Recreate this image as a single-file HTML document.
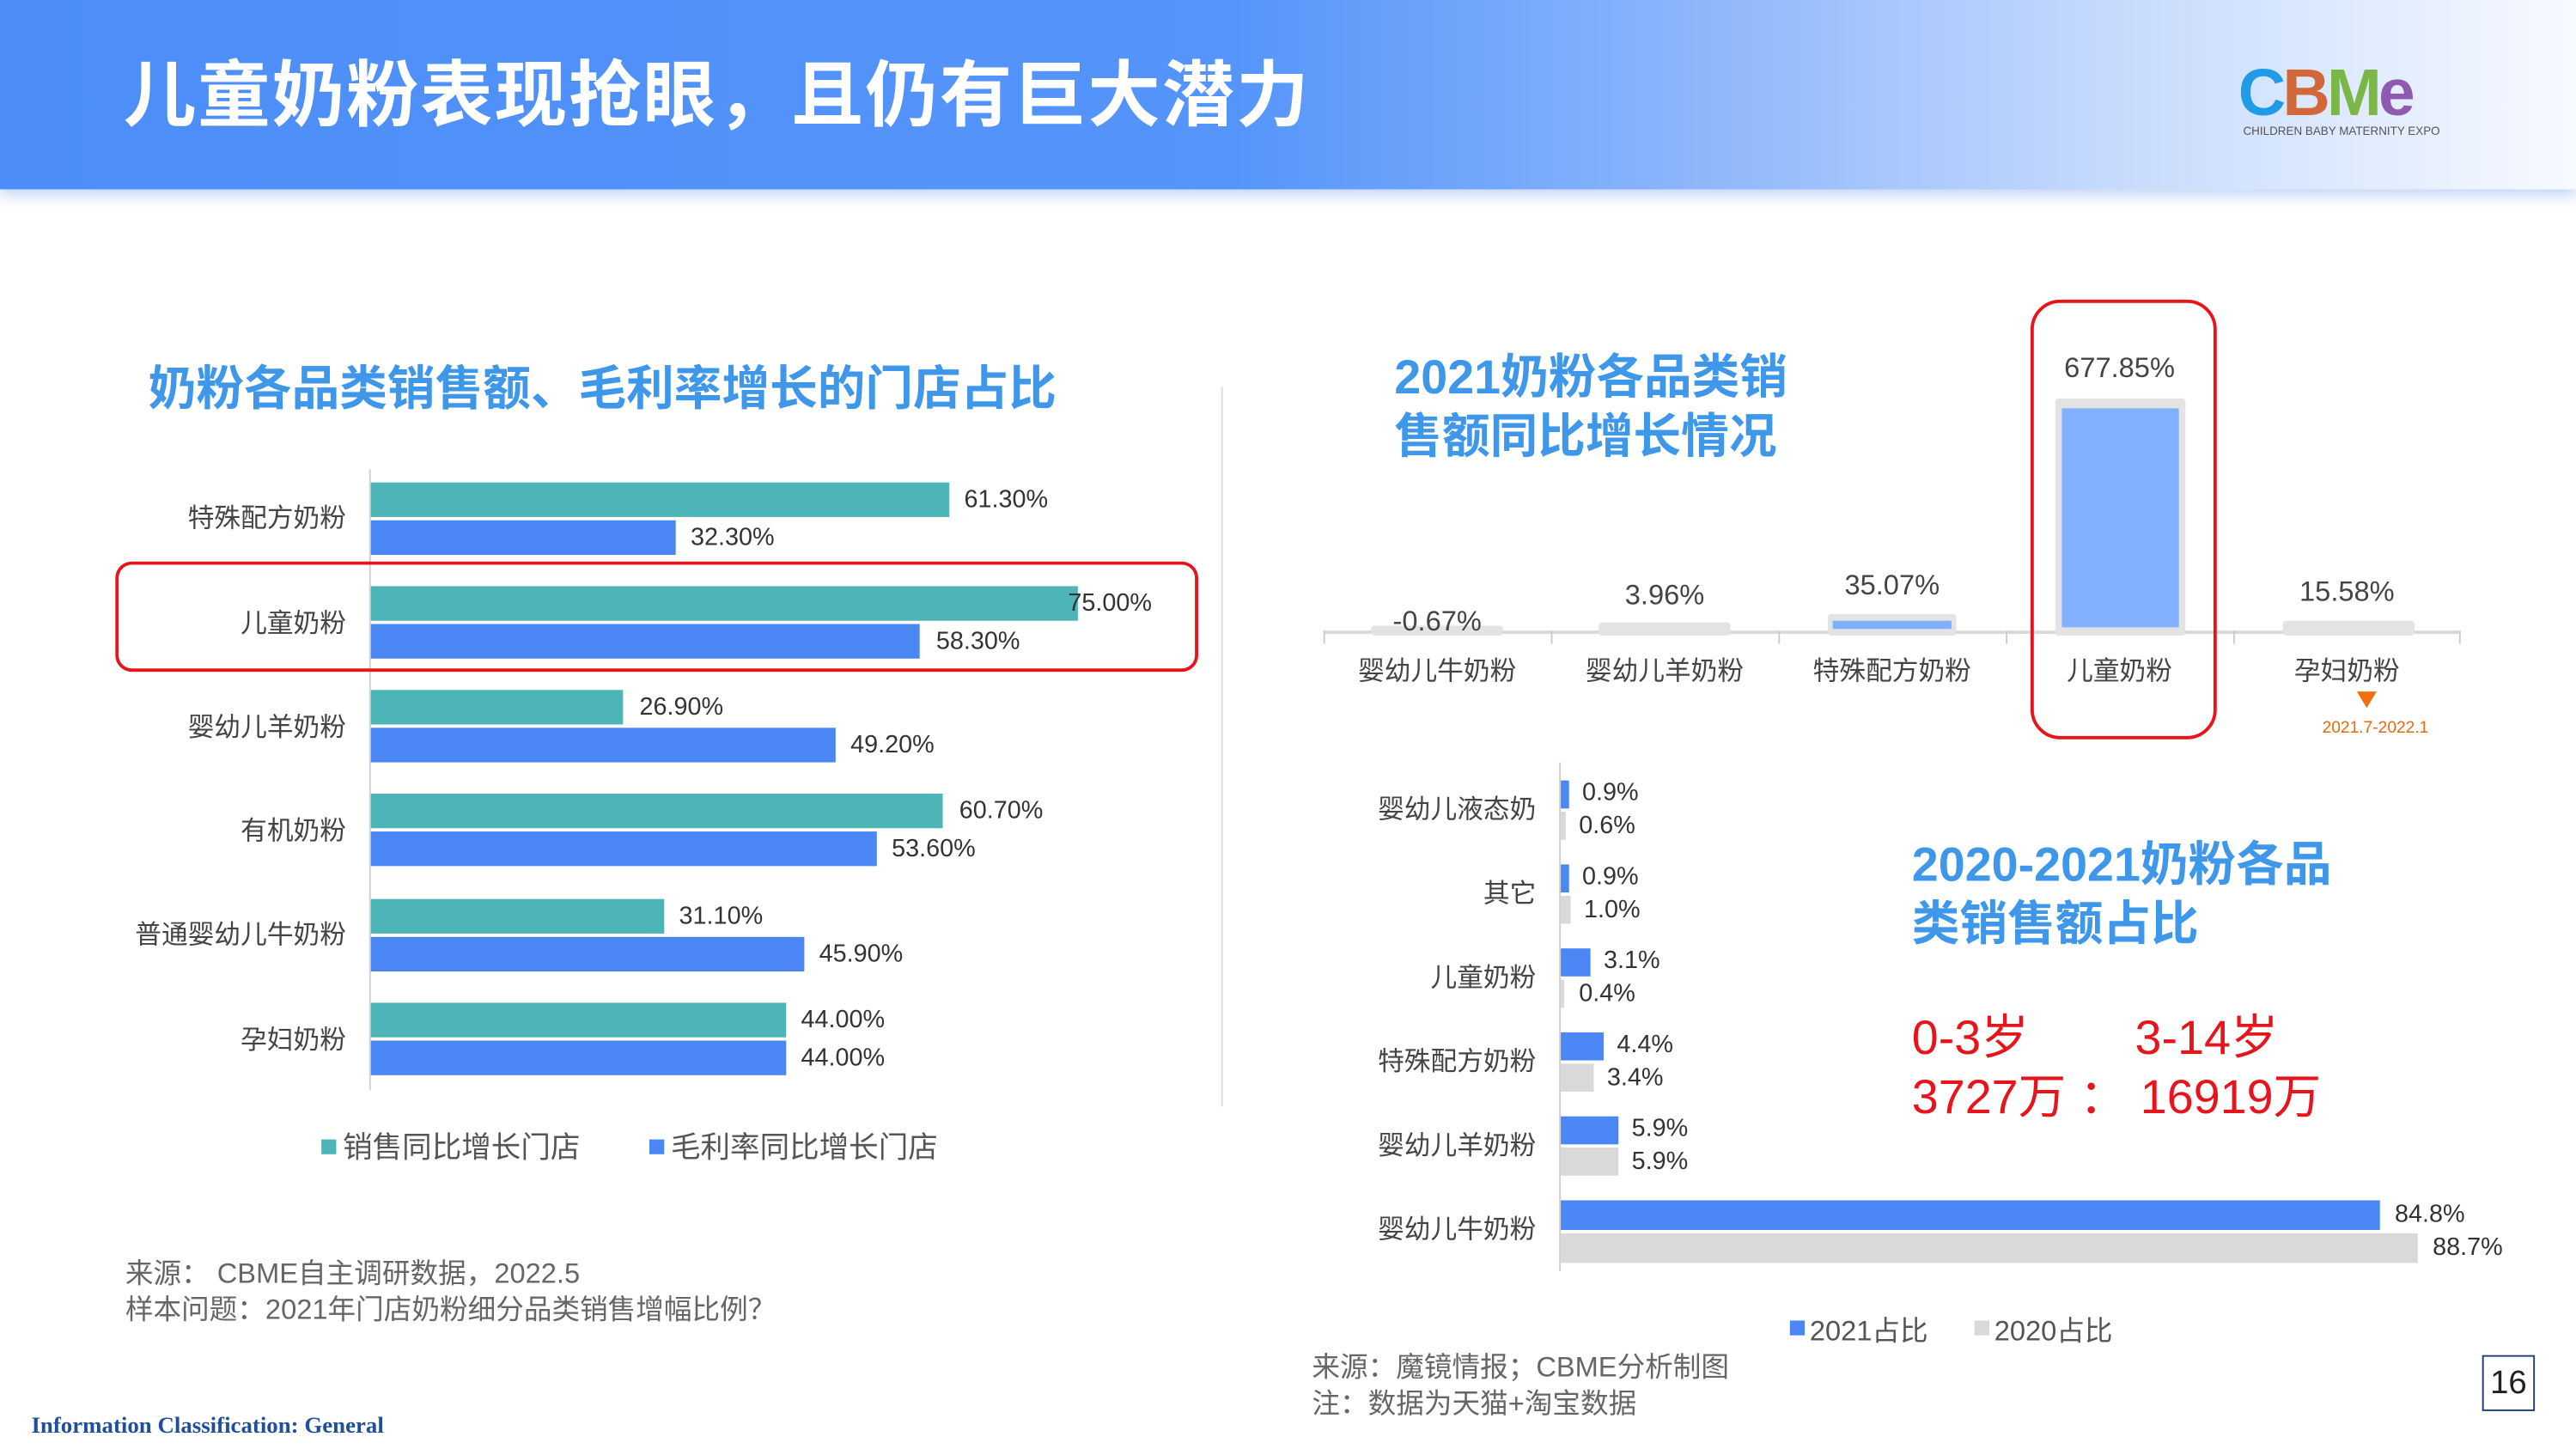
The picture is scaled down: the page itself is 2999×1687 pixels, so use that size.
<!DOCTYPE html>
<html><head><meta charset="utf-8">
<style>
html,body{margin:0;padding:0;background:#fff;}
body{width:2999px;height:1687px;overflow:hidden;position:relative;}
#s{position:absolute;left:0;top:0;width:1563px;height:880px;transform:scale(1.9188,1.917);transform-origin:0 0;font-family:"Liberation Sans","Noto Sans CJK SC",sans-serif;}
.a{position:absolute;white-space:nowrap;}
.hdr{position:absolute;left:0;top:0;width:1563px;height:115px;background:linear-gradient(90deg,#4c8df8 0%,#5595fa 48%,#8ab4fb 65%,#c6dafd 82%,#f7faff 100%);box-shadow:0 4px 8px rgba(80,130,220,0.35);}
.t{font-weight:bold;color:#3f97ea;font-size:29px;line-height:36px;}
.lab{font-size:16px;color:#444;}
.val{font-size:15px;color:#333;}
.b{position:absolute;}
</style></head><body><div id="s">
<div class="hdr"></div>
<div class="a" style="left:75px;top:22px;font-size:44px;font-weight:bold;color:#fff;letter-spacing:1px;">儿童奶粉表现抢眼，且仍有巨大潜力</div>
<div class="a" style="left:1358px;top:35px;font-size:40px;font-weight:bold;letter-spacing:-2px;"><span style="color:#1f9be8">C</span><span style="color:#d2683a">B</span><span style="color:#7ab648">M</span><span style="color:#8e5bb0">e</span></div>
<div class="a" style="left:1361px;top:77px;font-size:7px;color:#555;">CHILDREN BABY MATERNITY EXPO</div>

<div class="a t" style="left:90px;top:219px;">奶粉各品类销售额、毛利率增长的门店占比</div>
<div class="b" style="left:224px;top:285px;width:1px;height:377px;background:#d0d0d0"></div>
<div class="b" style="left:741px;top:235px;width:1px;height:437px;background:#ddd"></div>

<div class="a lab" style="right:1353px;top:301px;">特殊配方奶粉</div>
<div class="b" style="left:225px;top:293px;width:351px;height:21px;background:#4db5b7"></div>
<div class="b" style="left:225px;top:316px;width:185px;height:21px;background:#4a87f5"></div>
<div class="a val" style="left:585px;top:295px;">61.30%</div>
<div class="a val" style="left:419px;top:318px;">32.30%</div>

<div class="a lab" style="right:1353px;top:365px;">儿童奶粉</div>
<div class="b" style="left:225px;top:356px;width:429px;height:21px;background:#4db5b7"></div>
<div class="b" style="left:225px;top:379px;width:333px;height:21px;background:#4a87f5"></div>
<div class="a val" style="left:648px;top:358px;">75.00%</div>
<div class="a val" style="left:568px;top:381px;">58.30%</div>
<div class="b" style="left:70px;top:341px;width:653px;height:63px;border:2px solid #e8141c;border-radius:10px;"></div>

<div class="a lab" style="right:1353px;top:428px;">婴幼儿羊奶粉</div>
<div class="b" style="left:225px;top:419px;width:153px;height:21px;background:#4db5b7"></div>
<div class="b" style="left:225px;top:442px;width:282px;height:21px;background:#4a87f5"></div>
<div class="a val" style="left:388px;top:421px;">26.90%</div>
<div class="a val" style="left:516px;top:444px;">49.20%</div>

<div class="a lab" style="right:1353px;top:491px;">有机奶粉</div>
<div class="b" style="left:225px;top:482px;width:347px;height:21px;background:#4db5b7"></div>
<div class="b" style="left:225px;top:505px;width:307px;height:21px;background:#4a87f5"></div>
<div class="a val" style="left:582px;top:484px;">60.70%</div>
<div class="a val" style="left:541px;top:507px;">53.60%</div>

<div class="a lab" style="right:1353px;top:554px;">普通婴幼儿牛奶粉</div>
<div class="b" style="left:225px;top:546px;width:178px;height:21px;background:#4db5b7"></div>
<div class="b" style="left:225px;top:569px;width:263px;height:21px;background:#4a87f5"></div>
<div class="a val" style="left:412px;top:548px;">31.10%</div>
<div class="a val" style="left:497px;top:571px;">45.90%</div>

<div class="a lab" style="right:1353px;top:618px;">孕妇奶粉</div>
<div class="b" style="left:225px;top:609px;width:252px;height:21px;background:#4db5b7"></div>
<div class="b" style="left:225px;top:632px;width:252px;height:21px;background:#4a87f5"></div>
<div class="a val" style="left:486px;top:611px;">44.00%</div>
<div class="a val" style="left:486px;top:634px;">44.00%</div>

<div class="b" style="left:195px;top:692px;width:9px;height:9px;background:#4db5b7"></div>
<div class="a" style="left:208px;top:683px;font-size:18px;color:#555;">销售同比增长门店</div>
<div class="b" style="left:394px;top:692px;width:9px;height:9px;background:#4a87f5"></div>
<div class="a" style="left:407px;top:683px;font-size:18px;color:#555;">毛利率同比增长门店</div>

<div class="a" style="left:76px;top:763px;font-size:17px;color:#666;line-height:22px;">来源： CBME自主调研数据，2022.5<br>样本问题：2021年门店奶粉细分品类销售增幅比例？</div>
<div class="a" style="left:19px;top:859px;font-size:14px;color:#1f4e9a;font-weight:bold;font-family:'Liberation Serif',serif;">Information Classification: General</div>

<div class="a t" style="left:846px;top:212px;">2021奶粉各品类销<br>售额同比增长情况</div>
<div class="b" style="left:803px;top:383px;width:690px;height:2px;background:#d9d9d9"></div>
<div class="b" style="left:803px;top:383px;width:1px;height:8px;background:#ccc"></div>
<div class="b" style="left:941px;top:383px;width:1px;height:8px;background:#ccc"></div>
<div class="b" style="left:1079px;top:383px;width:1px;height:8px;background:#ccc"></div>
<div class="b" style="left:1217px;top:383px;width:1px;height:8px;background:#ccc"></div>
<div class="b" style="left:1355px;top:383px;width:1px;height:8px;background:#ccc"></div>
<div class="b" style="left:1492px;top:383px;width:1px;height:8px;background:#ccc"></div>
<div class="b" style="left:832px;top:380px;width:80px;height:6px;background:#e3e3e3;border-radius:2px"></div>
<div class="b" style="left:970px;top:378px;width:80px;height:8px;background:#e3e3e3;border-radius:2px"></div>
<div class="b" style="left:1109px;top:373px;width:78px;height:13px;background:#e3e3e3;border-radius:2px"></div>
<div class="b" style="left:1112px;top:377px;width:72px;height:5px;background:#7fb0ff"></div>
<div class="b" style="left:1247px;top:242px;width:79px;height:144px;background:#e3e3e3;border-radius:2px"></div>
<div class="b" style="left:1251px;top:248px;width:71px;height:133px;background:#80b0ff"></div>
<div class="b" style="left:1385px;top:377px;width:80px;height:9px;background:#e3e3e3;border-radius:2px"></div>
<div class="a" style="left:872px;top:368px;transform:translateX(-50%);font-size:17px;color:#444">-0.67%</div>
<div class="a" style="left:1010px;top:352px;transform:translateX(-50%);font-size:17px;color:#444">3.96%</div>
<div class="a" style="left:1148px;top:346px;transform:translateX(-50%);font-size:17px;color:#444">35.07%</div>
<div class="a" style="left:1286px;top:214px;transform:translateX(-50%);font-size:17px;color:#444">677.85%</div>
<div class="a" style="left:1424px;top:350px;transform:translateX(-50%);font-size:17px;color:#444">15.58%</div>
<div class="a lab" style="left:872px;top:394px;transform:translateX(-50%);">婴幼儿牛奶粉</div>
<div class="a lab" style="left:1010px;top:394px;transform:translateX(-50%);">婴幼儿羊奶粉</div>
<div class="a lab" style="left:1148px;top:394px;transform:translateX(-50%);">特殊配方奶粉</div>
<div class="a lab" style="left:1286px;top:394px;transform:translateX(-50%);">儿童奶粉</div>
<div class="a lab" style="left:1424px;top:394px;transform:translateX(-50%);">孕妇奶粉</div>
<div class="b" style="left:1232px;top:182px;width:109px;height:263px;border:2px solid #e8141c;border-radius:18px;"></div>
<div class="b" style="left:1430px;top:420px;width:0;height:0;border-left:6px solid transparent;border-right:6px solid transparent;border-top:10px solid #f07010;"></div>
<div class="a" style="left:1409px;top:437px;font-size:10px;color:#e86a10;">2021.7-2022.1</div>

<div class="b" style="left:946px;top:463px;width:1px;height:309px;background:#d0d0d0"></div>
<div class="a lab" style="right:631px;top:478px;">婴幼儿液态奶</div>
<div class="b" style="left:947px;top:474px;width:5px;height:17px;background:#4a87f5"></div>
<div class="b" style="left:947px;top:493px;width:3px;height:17px;background:#d9d9d9"></div>
<div class="a val" style="left:960px;top:473px;">0.9%</div>
<div class="a val" style="left:958px;top:493px;">0.6%</div>

<div class="a lab" style="right:631px;top:529px;">其它</div>
<div class="b" style="left:947px;top:525px;width:5px;height:17px;background:#4a87f5"></div>
<div class="b" style="left:947px;top:544px;width:6px;height:17px;background:#d9d9d9"></div>
<div class="a val" style="left:960px;top:524px;">0.9%</div>
<div class="a val" style="left:961px;top:544px;">1.0%</div>

<div class="a lab" style="right:631px;top:580px;">儿童奶粉</div>
<div class="b" style="left:947px;top:576px;width:18px;height:17px;background:#4a87f5"></div>
<div class="b" style="left:947px;top:595px;width:2px;height:17px;background:#d9d9d9"></div>
<div class="a val" style="left:973px;top:575px;">3.1%</div>
<div class="a val" style="left:958px;top:595px;">0.4%</div>

<div class="a lab" style="right:631px;top:631px;">特殊配方奶粉</div>
<div class="b" style="left:947px;top:627px;width:26px;height:17px;background:#4a87f5"></div>
<div class="b" style="left:947px;top:646px;width:20px;height:17px;background:#d9d9d9"></div>
<div class="a val" style="left:981px;top:626px;">4.4%</div>
<div class="a val" style="left:975px;top:646px;">3.4%</div>

<div class="a lab" style="right:631px;top:682px;">婴幼儿羊奶粉</div>
<div class="b" style="left:947px;top:678px;width:35px;height:17px;background:#4a87f5"></div>
<div class="b" style="left:947px;top:697px;width:35px;height:17px;background:#d9d9d9"></div>
<div class="a val" style="left:990px;top:677px;">5.9%</div>
<div class="a val" style="left:990px;top:697px;">5.9%</div>

<div class="a lab" style="right:631px;top:733px;">婴幼儿牛奶粉</div>
<div class="b" style="left:947px;top:729px;width:497px;height:18px;background:#4a87f5"></div>
<div class="b" style="left:947px;top:749px;width:520px;height:18px;background:#d9d9d9"></div>
<div class="a val" style="left:1453px;top:729px;">84.8%</div>
<div class="a val" style="left:1476px;top:749px;">88.7%</div>

<div class="b" style="left:1086px;top:802px;width:9px;height:9px;background:#4a87f5"></div>
<div class="a" style="left:1098px;top:794px;font-size:17px;color:#555;">2021占比</div>
<div class="b" style="left:1198px;top:802px;width:9px;height:9px;background:#d9d9d9"></div>
<div class="a" style="left:1210px;top:794px;font-size:17px;color:#555;">2020占比</div>

<div class="a t" style="left:1160px;top:508px;">2020-2021奶粉各品<br>类销售额占比</div>
<div class="a" style="left:1160px;top:613px;font-size:29px;color:#e8141c;line-height:36px;">0-3岁&nbsp;&nbsp;&nbsp;&nbsp;&nbsp;&nbsp;&nbsp;&nbsp;3-14岁<br>3727万 ： 16919万</div>

<div class="a" style="left:796px;top:820px;font-size:17px;color:#666;line-height:22px;">来源：魔镜情报；CBME分析制图<br>注：数据为天猫+淘宝数据</div>
<div class="b" style="left:1506px;top:823px;width:30px;height:32px;border:1.5px solid #1f3e7a;font-size:20px;text-align:center;line-height:32px;color:#222;">16</div>
</div></body></html>
